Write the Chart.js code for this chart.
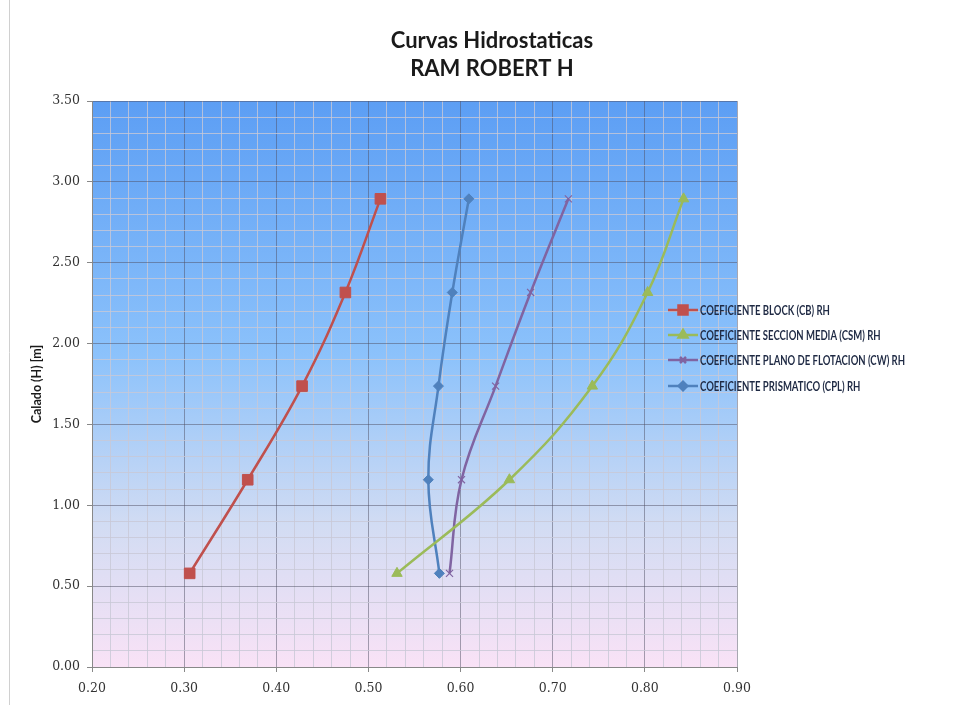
<!DOCTYPE html>
<html>
<head>
<meta charset="utf-8">
<script src="https://cdn.jsdelivr.net/npm/chart.js@4/dist/chart.umd.min.js"></script>
<style>
  body { margin: 0; background: #fff; }
  #wrap { width: 966px; height: 705px; position: relative; }
</style>
</head>
<body>
<div id="wrap"><canvas id="grafico" width="966" height="705"></canvas></div>
<script>
// Datos
const calado = [0.579, 1.158, 1.737, 2.316, 2.895];
const coefBlock = [0.306, 0.369, 0.428, 0.475, 0.513];
const coefSeccionMedia = [0.531, 0.653, 0.743, 0.803, 0.842];
const coefPlanoFlotacion = [0.588, 0.601, 0.638, 0.676, 0.717];
const coefPrismatico = [0.577, 0.565, 0.576, 0.591, 0.609];

const nombres = [
    'COEFICIENTE BLOCK (CB) RH',
    'COEFICIENTE SECCION MEDIA (CSM) RH',
    'COEFICIENTE PLANO DE FLOTACION (CW) RH',
    'COEFICIENTE PRISMATICO (CPL) RH'
];
const titulo = ['Curvas Hidrostaticas', 'RAM ROBERT H'];
const tituloEjeY = 'Calado (H) [m]';

const colores = ['#c0504d', '#9bbb59', '#8064a2', '#4f81bd'];
const marcadores = ['rect', 'triangle', 'crossRot', 'rectRot'];
const radios = [7.5, 6, 5, 5];

function puntos(xs) {
    return xs.map((x, i) => ({ x: x, y: calado[i] }));
}

const series = [coefBlock, coefSeccionMedia, coefPlanoFlotacion, coefPrismatico];

const datasets = series.map((s, i) => ({
    label: nombres[i],
    data: puntos(s),
    showLine: true,
    tension: 0.4,
    borderColor: colores[i],
    backgroundColor: colores[i],
    borderWidth: 2.5,
    pointStyle: marcadores[i],
    pointRadius: radios[i],
    pointBorderWidth: i === 2 ? 1.2 : 1,
    pointBorderColor: colores[i],
    pointBackgroundColor: colores[i]
}));

function esMayor(v, paso) {
    const r = v / paso;
    return Math.abs(r - Math.round(r)) < 1e-6;
}

// Fondo degradado del area de trazado
const fondoPlugin = {
    id: 'fondo',
    beforeDraw(chart) {
        const { ctx, chartArea: a } = chart;
        const g = ctx.createLinearGradient(0, a.top, 0, a.bottom);
        g.addColorStop(0, '#5c9ef4');
        g.addColorStop(0.45, '#8cc2fb');
        g.addColorStop(0.75, '#d2dcf3');
        g.addColorStop(1, '#f9e2f6');
        ctx.save();
        ctx.fillStyle = g;
        ctx.fillRect(a.left, a.top, a.right - a.left, a.bottom - a.top);
        // borde del marco
        ctx.strokeStyle = '#d0d0d0';
        ctx.lineWidth = 1;
        ctx.beginPath();
        ctx.moveTo(9.5, 0);
        ctx.lineTo(9.5, 705);
        ctx.stroke();
        ctx.restore();
    }
};

// Titulo y leyenda dibujados a mano (la leyenda tapa parte del area)
const textosPlugin = {
    id: 'textos',
    afterDraw(chart) {
        const ctx = chart.ctx;
        ctx.save();
        ctx.fillStyle = '#1a1a1a';
        ctx.font = 'bold 22px Lato, "Open Sans", sans-serif';
        ctx.textAlign = 'center';
        ctx.textBaseline = 'middle';
        ctx.fillText(titulo[0], 492, 41);
        ctx.fillText(titulo[1], 492, 69);

        const x0 = 668, x1 = 700;
        const ys = [310, 335, 360, 386];
        ctx.textAlign = 'left';
        ctx.font = 'bold 13.5px Lato, sans-serif';
        // texto estrecho como Calibri
        const anchoMax = Math.max(...nombres.map(n => ctx.measureText(n).width));
        const k = 205 / anchoMax;
        chart.data.datasets.forEach((ds, i) => {
            const y = ys[i];
            ctx.strokeStyle = ds.borderColor;
            ctx.lineWidth = 2.5;
            ctx.beginPath();
            ctx.moveTo(x0, y);
            ctx.lineTo(x1 - 2, y);
            ctx.stroke();
            ctx.fillStyle = ds.borderColor;
            Chart.helpers.drawPoint(ctx, {
                pointStyle: ds.pointStyle,
                radius: ds.pointRadius * 0.85,
                borderWidth: ds.pointBorderWidth
            }, (x0 + x1 - 2) / 2, y);
            ctx.fillStyle = '#1f2a44';
            ctx.save();
            ctx.translate(x1, y + 1);
            ctx.scale(k, 1);
            ctx.fillText(ds.label, 0, 0);
            ctx.restore();
        });
        ctx.restore();
    }
};

const ctx = document.getElementById('grafico').getContext('2d');
const grafico = new Chart(ctx, {
    type: 'scatter',
    data: { datasets: datasets },
    options: {
        responsive: false,
        animation: false,
        layout: { padding: { top: 101, right: 229, left: 0, bottom: 0 } },
        plugins: {
            legend: { display: false },
            title: { display: false },
            tooltip: { enabled: false }
        },
        scales: {
            x: {
                type: 'linear',
                min: 0.2,
                max: 0.9,
                afterFit: (s) => { s.height = 38; },
                ticks: {
                    stepSize: 0.02,
                    autoSkip: false,
                    maxRotation: 0,
                    padding: 9,
                    color: '#333',
                    font: { family: '"DejaVu Serif", serif', size: 12.5 },
                    callback: (v) => esMayor(v, 0.1) ? v.toFixed(2) : ''
                },
                grid: {
                    tickLength: 5,
                    color: (c) => esMayor(c.tick.value, 0.1) ? 'rgba(80,80,100,0.5)' : 'rgba(200,200,214,0.8)',
                    tickColor: (c) => esMayor(c.tick.value, 0.1) ? '#888' : 'rgba(0,0,0,0)'
                },
                border: { color: '#888', width: 1 }
            },
            y: {
                type: 'linear',
                min: 0,
                max: 3.5,
                afterFit: (s) => { s.width = 92; },
                title: {
                    display: true,
                    text: tituloEjeY,
                    color: '#1a1a1a',
                    font: { family: 'Lato, sans-serif', size: 12.5, weight: 'bold' },
                    padding: { top: 29, bottom: 0 }
                },
                ticks: {
                    stepSize: 0.1,
                    autoSkip: false,
                    padding: 7,
                    color: '#333',
                    font: { family: '"DejaVu Serif", serif', size: 12.5 },
                    callback: (v) => esMayor(v, 0.5) ? v.toFixed(2) : ''
                },
                grid: {
                    tickLength: 5,
                    color: (c) => esMayor(c.tick.value, 0.5) ? 'rgba(80,80,100,0.5)' : 'rgba(200,200,214,0.8)',
                    tickColor: (c) => esMayor(c.tick.value, 0.5) ? '#888' : 'rgba(0,0,0,0)'
                },
                border: { color: '#888', width: 1 }
            }
        }
    },
    plugins: [fondoPlugin, textosPlugin]
});
</script>
</body>
</html>
